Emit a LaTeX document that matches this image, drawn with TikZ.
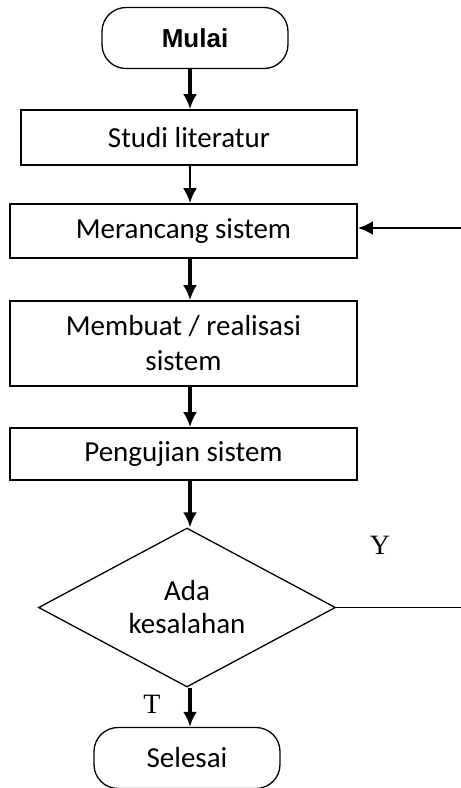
\documentclass[tikz,border=0pt]{standalone}
\usepackage{fontspec}
\setmainfont{Carlito}
\newfontfamily\arialfont{Liberation Sans}
\newfontfamily\timesfont{Liberation Serif}
\usepackage{tikz}
\usetikzlibrary{shapes.geometric,arrows.meta}
\tikzset{>={Latex[length=15pt,width=14pt]}}

\begin{document}
\begin{tikzpicture}[x=1pt, y=-1pt,
                    box/.style={draw, line width=1.6pt, minimum width=347pt, minimum height=54pt,
                                inner sep=0pt, align=center, font=\fontsize{29}{35}\selectfont},
                    term/.style={draw, line width=1.3pt, rounded corners=24pt, minimum width=186pt,
                                 minimum height=61pt, inner sep=0pt, font=\fontsize{29}{35}\selectfont},
                    test/.style={draw, diamond, aspect=2, line width=1.3pt, minimum width=297pt,
                                 minimum height=159pt, inner sep=0pt, align=center,
                                 font=\fontsize{29}{33}\selectfont},
                    flow/.style={->, line width=3.4pt},
                    answer/.style={font=\timesfont\fontsize{28}{32}\selectfont}]
  \useasboundingbox (0,0) rectangle (461,788);

  % MAIN COLUMN
  \coordinate (spine) at (190,0);
  \node[term, font=\arialfont\bfseries\fontsize{26}{30}\selectfont] (mulai) at (195,38) {Mulai};
  \node[box, minimum width=336pt, minimum height=55pt] (studi) at (189,137.5) {Studi literatur};
  \node[box] (rancang) at (183.5,231) {Merancang sistem};
  \node[box, minimum height=85pt] (buat) at (183.5,343.5) {Membuat / realisasi\\sistem};
  \node[box, minimum height=52pt] (uji) at (183.5,454) {Pengujian sistem};
  \node[test] (cek) at (187,607.5) {Ada\\kesalahan};
  \node[term] (selesai) at (187,758) {Selesai};

  \draw[flow] (mulai.south -| spine) -- (studi.north -| spine);
  \draw[flow, line width=2.8pt] (studi.south -| spine) -- (rancang.north -| spine);
  \draw[flow, line width=4.2pt] (rancang.south -| spine) -- (buat.north -| spine);
  \draw[flow, line width=3.8pt] (buat.south -| spine) -- (uji.north -| spine);
  \draw[flow] (uji.south -| spine) -- (cek.north -| spine);
  \draw[flow] (cek.south -| spine) -- (selesai.north -| spine);

  % LOOP BACK (cut at the right edge)
  \coordinate (yaout) at (461,607.5);
  \coordinate (yain) at (461,228);
  \draw[line width=1.6pt] (cek.east) -- (yaout);
  \draw[flow, line width=2.8pt] (yain) -- (rancang.east |- yain);

  % ANSWERS
  \node[answer] (ya) at (380,545) {Y};
  \node[answer] (tidak) at (152,704) {T};
\end{tikzpicture}
\end{document}
